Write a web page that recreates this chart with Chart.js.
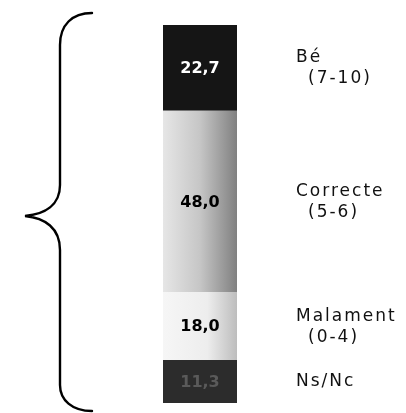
<!DOCTYPE html>
<html>
<head>
    <title>Valoració</title>
    <script src="https://cdn.jsdelivr.net/npm/chart.js@4/dist/chart.umd.min.js"></script>
    <style>
        html, body {
            margin: 0;
            padding: 0;
            background: #ffffff;
        }
        .wrap {
            width: 406px;
            height: 413px;
        }
    </style>
</head>
<body>
    <div class="wrap"><canvas id="chart" width="406" height="413"></canvas></div>

    <script>
        // Stacked from the bottom up
        const categories = ['Ns/Nc', 'Malament', 'Correcte', 'Bé'];
        const ranges = ['', '(0-4)', '(5-6)', '(7-10)'];
        const values = [11.3, 18.0, 48.0, 22.7];
        const valueLabels = ['11,3', '18,0', '48,0', '22,7'];

        const fills = [
            () => '#2c2c2c',
            (area, ctx) => {
                const g = ctx.createLinearGradient(area.left, 0, area.right, 0);
                g.addColorStop(0, '#f6f6f6');
                g.addColorStop(0.6, '#ededed');
                g.addColorStop(1, '#bdbdbd');
                return g;
            },
            (area, ctx) => {
                const g = ctx.createLinearGradient(area.left, 0, area.right, 0);
                g.addColorStop(0, '#e6e6e6');
                g.addColorStop(0.5, '#c6c6c6');
                g.addColorStop(1, '#808080');
                return g;
            },
            () => '#151515'
        ];
        const textColors = ['#5a5a5a', '#000000', '#000000', '#ffffff'];

        // curly brace on the left and the labels on the right
        const decorations = {
            id: 'decorations',
            afterDatasetsDraw(chart) {
                const ctx = chart.ctx;
                const area = chart.chartArea;

                ctx.save();
                ctx.strokeStyle = '#000';
                ctx.lineWidth = 2.4;
                ctx.lineCap = 'round';
                ctx.beginPath();
                ctx.moveTo(92, 13);
                ctx.bezierCurveTo(72, 13, 60, 25, 60, 45);
                ctx.lineTo(60, 185);
                ctx.bezierCurveTo(60, 205, 45, 214, 25, 216);
                ctx.bezierCurveTo(45, 218, 60, 228, 60, 250);
                ctx.lineTo(60, 385);
                ctx.bezierCurveTo(60, 400, 72, 411, 92, 411);
                ctx.stroke();
                ctx.restore();

                chart.data.datasets.forEach((ds, i) => {
                    const bar = chart.getDatasetMeta(i).data[0];
                    const mid = (bar.y + bar.base) / 2;

                    ctx.save();
                    ctx.font = 'bold 16px "DejaVu Sans"';
                    ctx.fillStyle = textColors[i];
                    ctx.textAlign = 'center';
                    ctx.textBaseline = 'middle';
                    ctx.fillText(valueLabels[i], (area.left + area.right) / 2, mid + 1);

                    ctx.font = '17px "DejaVu Sans"';
                    ctx.letterSpacing = '2px';
                    ctx.fillStyle = '#111';
                    ctx.textAlign = 'left';
                    if (ranges[i]) {
                        ctx.fillText(categories[i], 296, mid - 10);
                        ctx.fillText(ranges[i], 308, mid + 11);
                    } else {
                        ctx.fillText(categories[i], 296, mid);
                    }
                    ctx.restore();
                });
            }
        };

        new Chart(document.getElementById('chart'), {
            type: 'bar',
            data: {
                labels: [''],
                datasets: categories.map((name, i) => ({
                    label: name,
                    data: [values[i]],
                    backgroundColor: (c) => {
                        const area = c.chart.chartArea;
                        if (!area) return '#888';
                        return fills[i](area, c.chart.ctx);
                    },
                    borderWidth: 0,
                    barPercentage: 1,
                    categoryPercentage: 1
                }))
            },
            options: {
                responsive: false,
                animation: false,
                layout: {
                    padding: { left: 163, right: 169, top: 25, bottom: 10 }
                },
                plugins: {
                    legend: { display: false },
                    tooltip: { enabled: false }
                },
                scales: {
                    x: { stacked: true, display: false },
                    y: { stacked: true, display: false, min: 0, max: 100 }
                }
            },
            plugins: [decorations]
        });
    </script>
</body>
</html>
